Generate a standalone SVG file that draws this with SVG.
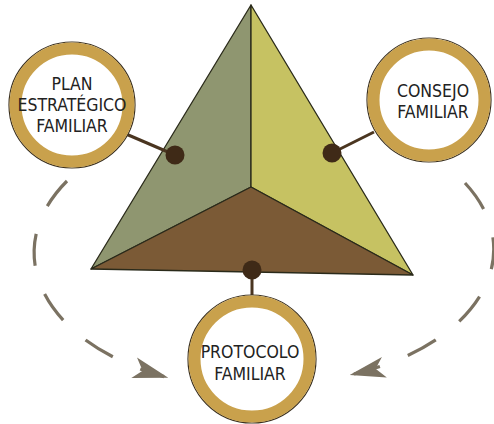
<svg xmlns="http://www.w3.org/2000/svg" width="494" height="424" viewBox="0 0 494 424">
  <defs>
    <style>
      .ring-outline { fill: #fff; stroke: #3a3020; stroke-width: 1.2; }
      .ring { fill: none; stroke: #C9A14C; stroke-width: 12; }
      .label { font-family: "DejaVu Sans Condensed", "DejaVu Sans", sans-serif; font-size: 17.5px; fill: #222; text-anchor: middle; }
      .link { stroke: #4a3520; stroke-width: 3; fill: none; }
      .dot { fill: #3f2a17; }
      .cycle { fill: none; stroke: #7b7262; stroke-width: 3.2; stroke-dasharray: 32 30; stroke-linecap: butt; }
      .face { stroke: #2a2a1a; stroke-width: 1.3; stroke-linejoin: round; }
    </style>
    <marker id="stealth" markerUnits="userSpaceOnUse" markerWidth="40" markerHeight="30" refX="0" refY="0" viewBox="-32 -12 36 24" orient="auto">
      <path d="M4,0 L-28,-10 L-20,0 L-28,9 Z" fill="#7b7262"/>
    </marker>
  </defs>

  <!-- triangle -->
  <g id="triangle">
    <polygon class="face" points="251,5 251,187 91,269" fill="#8F9670"/>
    <polygon class="face" points="251,5 413,275 251,187" fill="#C6C262"/>
    <polygon class="face" points="91,269 251,187 413,275" fill="#7B5A36"/>
  </g>

  <!-- connectors -->
  <g id="connectors">
    <line class="link" x1="126" y1="134" x2="175" y2="155"/>
    <line class="link" x1="332" y1="153" x2="374" y2="132"/>
    <line class="link" x1="252" y1="270" x2="252" y2="296"/>
    <circle class="dot" cx="175" cy="155" r="9.5"/>
    <circle class="dot" cx="332" cy="153" r="9.5"/>
    <circle class="dot" cx="252" cy="270" r="9.5"/>
    <path class="cycle" d="M67,181 A220,136 0 0 0 164,376.6" marker-end="url(#stealth)"/>
    <path class="cycle" d="M465,183 A220,134 0 0 1 354,374" marker-end="url(#stealth)"/>
  </g>

  <g id="plan">
    <circle class="ring-outline" cx="72" cy="105" r="63"/>
    <circle class="ring" cx="72" cy="105" r="56.5"/>
    <text class="label" x="72" y="90">PLAN</text>
    <text class="label" x="72" y="111">ESTRATÉGICO</text>
    <text class="label" x="72" y="132">FAMILIAR</text>
  </g>

  <g id="consejo">
    <circle class="ring-outline" cx="429" cy="100" r="62"/>
    <circle class="ring" cx="429" cy="100" r="55.5"/>
    <text class="label" x="433" y="97">CONSEJO</text>
    <text class="label" x="433" y="118">FAMILIAR</text>
  </g>

  <g id="protocolo">
    <circle class="ring-outline" cx="252" cy="359" r="64"/>
    <circle class="ring" cx="252" cy="359" r="57.5"/>
    <text class="label" x="250" y="358">PROTOCOLO</text>
    <text class="label" x="250" y="380">FAMILIAR</text>
  </g>
</svg>
